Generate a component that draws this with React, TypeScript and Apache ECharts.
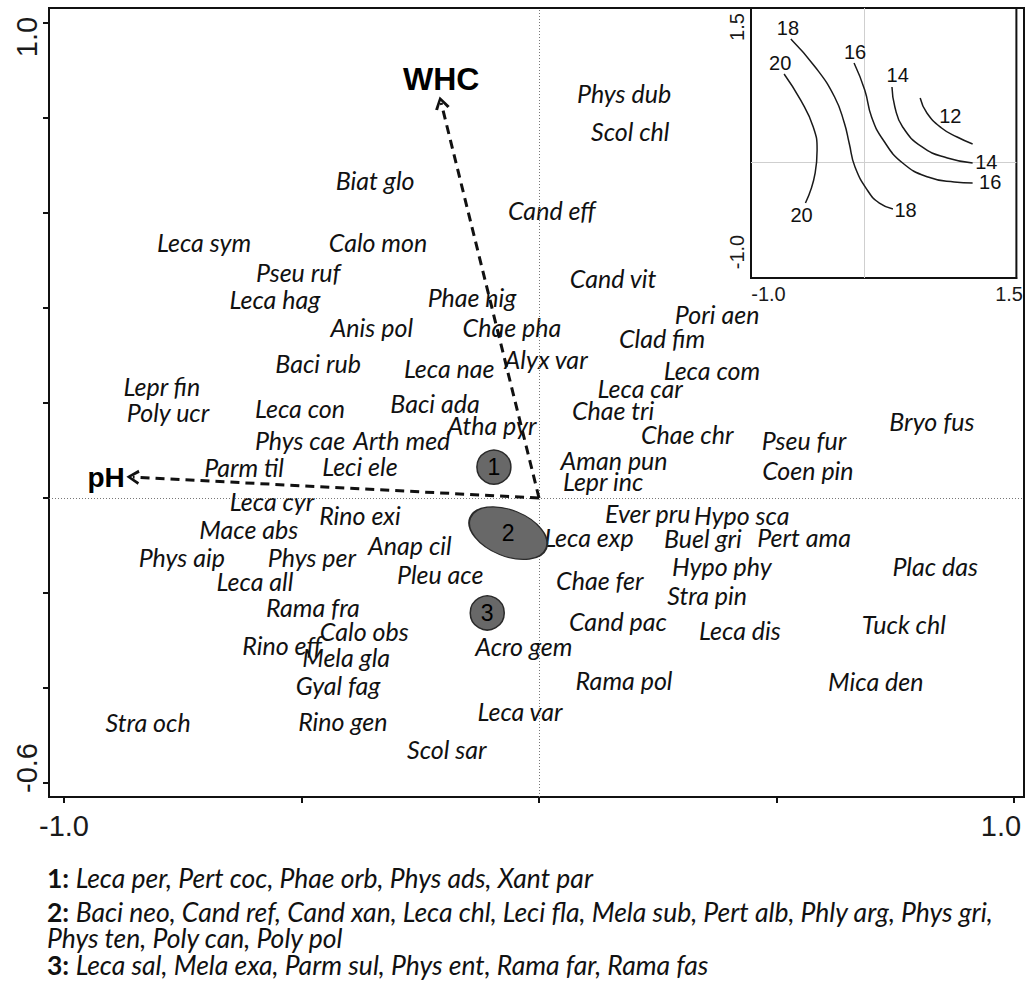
import React, { useEffect, useRef } from "react";
import * as echarts from "echarts";

// ---- Species ordination scores (label centres) ----
const speciesNames: string[] = [
  "Phys dub", "Scol chl", "Biat glo", "Cand eff", "Leca sym", "Calo mon", "Pseu ruf", "Cand vit",
  "Leca hag", "Phae nig", "Pori aen", "Anis pol", "Chae pha", "Clad fim", "Baci rub", "Leca nae",
  "Alyx var", "Leca com", "Lepr fin", "Leca car", "Baci ada", "Poly ucr", "Leca con", "Chae tri",
  "Bryo fus", "Atha pyr", "Chae chr", "Pseu fur", "Phys cae", "Arth med", "Parm til", "Leci ele",
  "Aman pun", "Coen pin", "Lepr inc", "Leca cyr", "Rino exi", "Ever pru", "Hypo sca", "Mace abs",
  "Anap cil", "Leca exp", "Buel gri", "Pert ama", "Phys aip", "Phys per", "Pleu ace", "Leca all",
  "Chae fer", "Hypo phy", "Plac das", "Rama fra", "Stra pin", "Cand pac", "Calo obs", "Leca dis",
  "Tuck chl", "Rino eff", "Mela gla", "Acro gem", "Gyal fag", "Rama pol", "Mica den", "Stra och",
  "Rino gen", "Leca var", "Scol sar",
];
const speciesX: number[] = [
  0.179, 0.192, -0.345, 0.027, -0.705, -0.339, -0.507, 0.156,
  -0.556, -0.141, 0.375, -0.352, -0.057, 0.259, -0.465, -0.189,
  0.015, 0.364, -0.794, 0.213, -0.219, -0.781, -0.503, 0.156,
  0.827, -0.099, 0.312, 0.558, -0.503, -0.289, -0.621, -0.377,
  0.158, 0.566, 0.135, -0.562, -0.377, 0.229, 0.427, -0.611,
  -0.272, 0.105, 0.345, 0.558, -0.752, -0.478, -0.208, -0.598,
  0.128, 0.385, 0.834, -0.476, 0.354, 0.166, -0.368, 0.423,
  0.768, -0.541, -0.406, -0.032, -0.423, 0.179, 0.709, -0.823,
  -0.413, -0.04, -0.194,
];
const speciesY: number[] = [
  0.853, 0.773, 0.669, 0.606, 0.539, 0.539, 0.476, 0.463,
  0.419, 0.423, 0.387, 0.36, 0.36, 0.337, 0.284, 0.274,
  0.293, 0.269, 0.236, 0.232, 0.2, 0.181, 0.189, 0.185,
  0.162, 0.154, 0.135, 0.122, 0.122, 0.122, 0.065, 0.067,
  0.08, 0.059, 0.036, -0.006, -0.036, -0.032, -0.036, -0.065,
  -0.099, -0.082, -0.084, -0.082, -0.124, -0.124, -0.16, -0.175,
  -0.173, -0.143, -0.143, -0.229, -0.204, -0.259, -0.28, -0.278,
  -0.265, -0.309, -0.335, -0.312, -0.394, -0.383, -0.385, -0.472,
  -0.469, -0.448, -0.528,
];

// ---- Environmental vectors ----
const envNames = ["pH", "WHC"];
const envX = [-0.855, -0.206];
const envY = [0.044, 0.832];

// ---- Species groups drawn as markers ----
const groupIds = ["1", "2", "3"];
const groupX = [-0.095, -0.065, -0.109];
const groupY = [0.065, -0.074, -0.242];
const group1 = ["Leca per", "Pert coc", "Phae orb", "Phys ads", "Xant par"];
const group2a = ["Baci neo", "Cand ref", "Cand xan", "Leca chl", "Leci fla", "Mela sub", "Pert alb", "Phly arg", "Phys gri"];
const group2b = ["Phys ten", "Poly can", "Poly pol"];
const group3 = ["Leca sal", "Mela exa", "Parm sul", "Phys ent", "Rama far", "Rama fas"];

// ---- Axis ticks ----
const xTicks = [-1, -0.5, 0, 0.5, 1];
const xTickLabels = [-1, 1];
const yTicks = [-0.6, -0.4, -0.2, 0, 0.2, 0.4, 0.6, 0.8, 1];
const yTickLabels = [-0.6, 1];

// ---- Inset: contour lines (inset coordinates) ----
const contour20 = [[-0.838, 0.978], [-0.667, 0.689], [-0.535, 0.389], [-0.495, 0.133], [-0.515, -0.122], [-0.616, -0.456]];
const contour18 = [[-0.768, 1.367], [-0.515, 1.056], [-0.313, 0.722], [-0.212, 0.433], [-0.162, 0.211], [-0.101, -0.056], [0.04, -0.333], [0.152, -0.456], [0.293, -0.522]];
const contour16 = [[-0.111, 1.1], [0, 0.8], [0.071, 0.5], [0.192, 0.244], [0.394, -0.011], [0.657, -0.167], [0.929, -0.222], [1.121, -0.233]];
const contour14 = [[0.283, 0.833], [0.313, 0.611], [0.394, 0.389], [0.596, 0.167], [0.859, 0.044], [1.121, -0.011]];
const contour12 = [[0.576, 0.711], [0.646, 0.544], [0.798, 0.378], [0.96, 0.278], [1.121, 0.2]];
const contourLabelText = ["18", "20", "16", "14", "12", "14", "16", "18", "20"];
const contourLabelX = [-0.798, -0.879, -0.101, 0.343, 0.889, 1.263, 1.303, 0.424, -0.657];
const contourLabelY = [1.489, 1.1, 1.222, 0.967, 0.511, 0, -0.222, -0.533, -0.589];
const insetXLabels = [-1, 1.5];
const insetYLabels = [-1, 1.5];

const SANS = "'Liberation Sans', Arial, sans-serif";
const ITAL = "Lato, 'Open Sans', sans-serif";
const chevron = "path://M5,0 L10,9 L8.2,10 L5,3.6 L1.8,10 L0,9 Z";
const ellipsePath = "path://M0,25A50,25,0,1,1,100,25A50,25,0,1,1,0,25Z";

export default function App() {
  const ref = useRef<HTMLDivElement>(null);
  useEffect(() => {
    if (!ref.current) return;
    const chart = echarts.init(ref.current, null, { renderer: "svg" });
    const fmt = (v: number) => v.toFixed(1);

    const speciesData = speciesNames.map((n, i) => [speciesX[i], speciesY[i], n]);
    const groupData = groupIds.map((g, i) => ({
      value: [groupX[i], groupY[i], g],
      symbol: g === "2" ? ellipsePath : "circle",
      symbolSize: g === "2" ? [82, 46] : 34,
      symbolRotate: g === "2" ? -22 : 0,
    }));
    const envData = envNames.map((n, i) => ({
      value: [envX[i], envY[i], n],
      label: {
        position: i === 0 ? "left" : "top",
        distance: 8,
        fontSize: i === 0 ? 28 : 32,
      },
    }));

    const contourSeries = [contour20, contour18, contour16, contour14, contour12].map((c) => ({
      type: "line",
      xAxisIndex: 1,
      yAxisIndex: 1,
      data: c,
      smooth: 0.5,
      showSymbol: false,
      symbol: "none",
      silent: true,
      lineStyle: { color: "#1a1a1a", width: 1.5 },
      z: 5,
    }));

    const footer = [
      { y: 878, text: "{b|1: }{i|" + group1.join(", ") + "}" },
      { y: 925, text: "{b|2: }{i|" + group2a.join(", ") + ",}\n{i|" + group2b.join(", ") + "}" },
      { y: 965, text: "{b|3: }{i|" + group3.join(", ") + "}" },
    ];

    chart.setOption({
      animation: false,
      backgroundColor: "#ffffff",
      textStyle: { fontFamily: SANS },
      grid: [
        { left: 49, top: 8, width: 975, height: 789, show: true, borderColor: "#111", borderWidth: 2, backgroundColor: "transparent", z: 0 },
        { left: 751, top: 8, width: 273, height: 270, show: true, borderColor: "#111", borderWidth: 2, backgroundColor: "#fff", z: 1 },
      ],
      xAxis: [
        {
          type: "value", gridIndex: 0, min: -1.0316, max: 1.021,
          splitLine: { show: false },
          axisLine: { onZero: false, lineStyle: { color: "#111", width: 2 } },
          axisTick: { show: true, length: 6, customValues: xTicks, lineStyle: { color: "#111", width: 2 } },
          axisLabel: {
            customValues: xTickLabels, margin: 14, fontSize: 29, color: "#1a1a1a", fontFamily: SANS,
            formatter: (v: number) => (v > 0 ? "{r|" + fmt(v) + "}" : fmt(v)),
            rich: { r: { fontSize: 29, color: "#1a1a1a", fontFamily: SANS, padding: [0, 26, 0, 0] } },
          },
        },
        {
          type: "value", gridIndex: 1, min: -1.1818, max: 1.5758,
          splitLine: { show: false },
          axisLine: { onZero: false, lineStyle: { color: "#111", width: 2 } },
          axisTick: { show: false },
          axisLabel: { customValues: insetXLabels, margin: 6, fontSize: 20, color: "#1a1a1a", fontFamily: SANS, formatter: fmt },
        },
      ],
      yAxis: [
        {
          type: "value", gridIndex: 0, min: -0.6295, max: 1.0316,
          splitLine: { show: false },
          axisLine: { onZero: false, lineStyle: { color: "#111", width: 2 } },
          axisTick: { show: true, length: 6, customValues: yTicks, lineStyle: { color: "#111", width: 2 } },
          axisLabel: {
            customValues: yTickLabels, rotate: 90, margin: 8, fontSize: 29, color: "#1a1a1a", fontFamily: SANS,
            formatter: (v: number) => (v > 0 ? "{t|" + fmt(v) + "}" : "{b|" + fmt(v) + "}"),
            rich: {
              t: { fontSize: 29, color: "#1a1a1a", fontFamily: SANS, padding: [0, 28, 0, 0] },
              b: { fontSize: 29, color: "#1a1a1a", fontFamily: SANS, padding: [0, 0, 0, 30] },
            },
          },
        },
        {
          type: "value", gridIndex: 1, min: -1.289, max: 1.711,
          splitLine: { show: false },
          axisLine: { onZero: false, lineStyle: { color: "#111", width: 2 } },
          axisTick: { show: false },
          axisLabel: { customValues: insetYLabels, rotate: 90, margin: 4, fontSize: 20, color: "#1a1a1a", fontFamily: SANS, formatter: fmt },
        },
      ],
      series: [
        {
          type: "scatter",
          name: "species",
          xAxisIndex: 0, yAxisIndex: 0,
          data: speciesData,
          symbolSize: 0.1,
          itemStyle: { color: "transparent", opacity: 1 },
          silent: true,
          label: {
            show: true, position: "inside",
            formatter: (p: any) => p.data[2],
            fontFamily: ITAL, fontStyle: "italic", fontSize: 25, lineHeight: 18, color: "#111",
          },
          markLine: {
            silent: true, symbol: "none",
            label: { show: false },
            lineStyle: { color: "#777", width: 1, type: [1, 2] },
            data: [{ xAxis: 0 }, { yAxis: 0 }],
          },
          z: 3,
        },
        {
          type: "scatter",
          name: "env",
          xAxisIndex: 0, yAxisIndex: 0,
          data: envData,
          symbolSize: 0.1,
          itemStyle: { color: "transparent", opacity: 1 },
          silent: true,
          label: {
            show: true,
            formatter: (p: any) => p.data.value[2],
            fontFamily: SANS, fontWeight: "bold", color: "#000",
          },
          markLine: {
            silent: true,
            symbol: ["none", chevron],
            symbolSize: [15, 13],
            label: { show: false },
            lineStyle: { color: "#111", width: 3, type: [9, 6] },
            data: envNames.map((_, i) => [{ coord: [0, 0] }, { coord: [envX[i], envY[i]] }]),
          },
          z: 4,
        },
        {
          type: "scatter",
          name: "groups",
          xAxisIndex: 0, yAxisIndex: 0,
          data: groupData,
          silent: true,
          itemStyle: { color: "#686868", borderColor: "#2a2a2a", borderWidth: 1.5, opacity: 1 },
          label: {
            show: true, position: "inside",
            formatter: (p: any) => p.data.value[2],
            fontFamily: SANS, fontSize: 23, color: "#000",
          },
          z: 5,
        },
        ...contourSeries,
        {
          type: "scatter",
          name: "contourLabels",
          xAxisIndex: 1, yAxisIndex: 1,
          data: contourLabelText.map((t, i) => [contourLabelX[i], contourLabelY[i], t]),
          symbolSize: 0.1,
          itemStyle: { color: "transparent", opacity: 1 },
          silent: true,
          label: { show: true, position: "inside", formatter: (p: any) => p.data[2], fontFamily: SANS, fontSize: 20, color: "#111" },
          markLine: {
            silent: true, symbol: "none",
            label: { show: false },
            lineStyle: { color: "#cfcfcf", width: 1, type: "solid" },
            data: [{ xAxis: 0 }, { yAxis: 0 }],
          },
          z: 6,
        },
      ],
      graphic: footer.map((f) => ({
        type: "text",
        x: 47,
        y: f.y,
        style: {
          text: f.text,
          verticalAlign: "middle",
          rich: {
            b: { fontFamily: ITAL, fontWeight: "bold", fontSize: 26.5, lineHeight: 26, fill: "#111" },
            i: { fontFamily: ITAL, fontStyle: "italic", fontSize: 26.5, lineHeight: 26, fill: "#111" },
          },
        },
      })),
    });
    return () => chart.dispose();
  }, []);
  return (
    <div
      ref={ref}
      style={{ position: "fixed", left: 0, top: 0, width: 1026, height: 985, background: "#fff" }}
    />
  );
}
